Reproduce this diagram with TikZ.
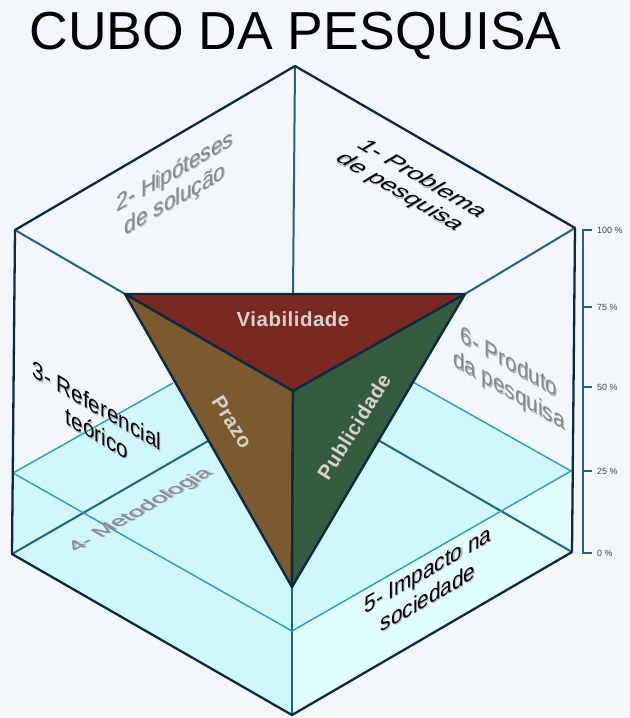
\documentclass[tikz,border=0pt]{standalone}
\usepackage{fontspec}
\setmainfont{Liberation Sans}
\definecolor{bgc}{HTML}{F3F7FB}
\definecolor{waterA}{HTML}{D0F7FE}
\definecolor{waterB}{HTML}{E2FDFF}
\definecolor{dk}{HTML}{0C2A3F}
\definecolor{teal}{HTML}{1F6580}
\definecolor{wl}{HTML}{2A9BC4}
\definecolor{viab}{HTML}{7A2822}
\definecolor{praz}{HTML}{7A5A2E}
\definecolor{publ}{HTML}{355C40}
\definecolor{lbl}{HTML}{D8D2CE}
\definecolor{shd}{HTML}{B4B8BC}
\definecolor{gtx}{HTML}{85898D}
\newcommand\sh[1]{\leavevmode\rlap{\kern1.2pt\raisebox{-1.2pt}{\textcolor{shd}{#1}}}#1}
\tikzset{
 x=1bp,y=-1bp,
 outer/.style={draw=dk,line width=2.3pt,line join=round},
 backl/.style={draw=teal,line width=2pt},
 waterl/.style={draw=wl,line width=1.4pt},
 tri/.style={draw=dk,line width=2.4pt,line join=round},
 face/.style={font=\fontsize{24}{28}\selectfont,align=center,inner sep=0pt},
 upR/.style={face,cm={.866,.5,0,1,(0,0)}},
 dnR/.style={face,cm={.866,-.5,0,1,(0,0)}},
 topR/.style={face,cm={.94,-.55,.8,.48,(0,0)}},
 floorL/.style={face,cm={.866,.5,-.7,.42,(0,0)}},
 tag/.style={font=\bfseries\fontsize{20.5}{24}\selectfont\addfontfeature{LetterSpace=2.5},text=lbl,inner sep=0pt},
 tick/.style={draw=teal,line width=2.4pt},
 pct/.style={font=\fontsize{9}{10}\selectfont,text=black!75,anchor=west,inner sep=0pt},
}
\begin{document}
\begin{tikzpicture}
\useasboundingbox (0,0) rectangle (630,718);
\fill[bgc] (0,0) rectangle (630,718);
\coordinate (T) at (295,66);
\coordinate (LT) at (15,230);
\coordinate (RT) at (575,228);
\coordinate (LB) at (12,554);
\coordinate (RB) at (572,552);
\coordinate (B) at (292,715);
\coordinate (C) at (293,391);
\coordinate (TL) at (125,294);
\coordinate (TR) at (465,294);
\coordinate (TM) at (293,294);
\coordinate (A) at (292,587);
\coordinate (WL) at (13,473);
\coordinate (WR) at (571,471);
\coordinate (WF) at (292,631);
\coordinate (WBL) at (173,383);
\coordinate (WBR) at (413,382);
\coordinate (FBL) at (208,441);
\coordinate (FBR) at (378,440);
% water
\fill[waterA] (WL) -- (WBL) -- (WBR) -- (WR) -- (RB) -- (B) -- (LB) -- cycle;
\fill[waterB] (WF) -- (WR) -- (RB) -- (B) -- cycle;
% back edges
\draw[backl] (T) -- (TM);
\draw[backl] (LT) -- (TL);
\draw[backl] (TR) -- (RT);
\draw[backl] (LB) -- (FBL);
\draw[backl] (RB) -- (FBR);
\draw[backl] (A) -- (B);
% water lines
\draw[waterl] (WL) -- (WBL);
\draw[waterl] (WL) -- (WF) -- (WR) -- (WBR);
% outer
\draw[outer] (LB) -- (LT) -- (T) -- (RT) -- (RB) -- (B) -- cycle;
% pyramid
\filldraw[tri,fill=viab] (TL) -- (TR) -- (C) -- cycle;
\filldraw[tri,fill=praz] (TL) -- (C) -- (A) -- cycle;
\filldraw[tri,fill=publ] (TR) -- (C) -- (A) -- cycle;
\node[tag] (nv) at (293,319) {Viabilidade};
\node[tag,rotate=-58] (npz) at (232,422) {Prazo};
\node[tag,rotate=58] (npb) at (354,427) {Publicidade};
% face labels
\node[topR] (n1) at (410,186) {\sh{1- Problema}\\\sh{de pesquisa}};
\node[upR,text=gtx] (n2) at (175,187) {\sh{2- Hipóteses}\\\sh{de solução}};
\node[dnR] (n3) at (97,420) {\sh{3- Referencial}\\\sh{teórico}};
\node[floorL,text=gtx] (n4) at (141,511) {\sh{4- Metodologia}};
\node[upR] (n5) at (428,584) {\sh{5- Impacto na}\\\sh{sociedade}};
\node[dnR,text=gtx] (n6) at (509,378) {\sh{6- Produto}\\\sh{da pesquisa}};
% title
\node[font=\fontsize{53.7}{60}\selectfont,anchor=base,inner sep=0pt] (title) at (295.5,50) {CUBO DA PESQUISA};
% scale
\node[pct] (p100) at (597,230) {100 \%};
\node[pct] (p75) at (597,307) {75 \%};
\node[pct] (p50) at (597,387) {50 \%};
\node[pct] (p25) at (597,471) {25 \%};
\node[pct] (p0) at (597,553) {0 \%};
\draw[tick] (p100.west) ++(-5,0) -- ++(-9,0) |- ([xshift=-5bp]p0.west);
\draw[tick] ([xshift=-5bp]p75.west) -- ++(-8,0);
\draw[tick] ([xshift=-5bp]p50.west) -- ++(-8,0);
\draw[tick] ([xshift=-5bp]p25.west) -- ++(-8,0);
\end{tikzpicture}
\end{document}
